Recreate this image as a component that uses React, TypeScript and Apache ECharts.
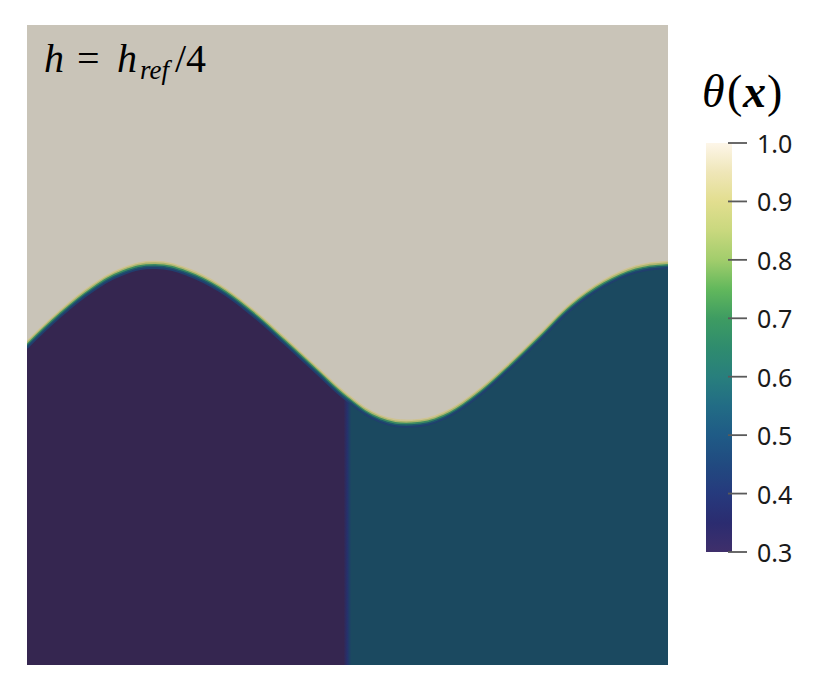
import React, { useEffect, useRef } from "react";
import * as echarts from "echarts";

// Interface position y(x) (domain [0,1] x [0,1])
const interfaceX = [0, 0.05, 0.1, 0.15, 0.2, 0.25, 0.3, 0.35, 0.4, 0.45, 0.5, 0.55, 0.6, 0.65, 0.7, 0.75, 0.8, 0.85, 0.9, 0.95, 1.0];
const interfaceY = [0.5, 0.547, 0.587, 0.615, 0.625, 0.614, 0.589, 0.552, 0.508, 0.462, 0.417, 0.385, 0.377, 0.389, 0.421, 0.464, 0.512, 0.561, 0.596, 0.618, 0.625];

// Lower regions: x extent and theta value
const regionStart = [0, 0.5];
const regionEnd = [0.5, 1];
const regionTheta = [0.3, 0.5];

// Colour bar: tick values (x10 to avoid float steps) and colormap stops
const barMin = 3;
const barMax = 10;
const barTicks = [3, 4, 5, 6, 7, 8, 9, 10];
const cmapValues = [0.3, 0.35, 0.4, 0.45, 0.5, 0.55, 0.6, 0.65, 0.7, 0.75, 0.8, 0.85, 0.9, 0.95, 1.0];
const cmapColors = ["#3f2f6b", "#2b2c70", "#263a7d", "#214a80", "#1f5b86", "#226c85", "#287f7d", "#2f8c6e", "#3e9c62", "#62b85c", "#a2cd6c", "#c9d87e", "#e2de8f", "#efe6b8", "#fdf6e9"];

const TOP_COLOR = "#c9c4b8";
const REGION_COLORS = ["#352650", "#1b4960"];
// interface blur band: [vertical pixel offset, width, colour]
const BAND: [number, number, string][] = [
  [-3.2, 2.2, "#cfc392"],
  [-1.6, 2.2, "#aab66c"],
  [0, 2.2, "#3d8b60"],
  [1.6, 2.2, "#1f5a6c"],
  [3.0, 1.8, "#213f6e"],
];

export default function App() {
  const ref = useRef<HTMLDivElement>(null);
  useEffect(() => {
    if (!ref.current) return;
    const chart = echarts.init(ref.current, null, { renderer: "svg" });
    const lineData = interfaceX.map((x, i) => [x, interfaceY[i]]);
    const regionData = regionStart.map((s, i) => [s, regionEnd[i], regionTheta[i]]);
    const stops = cmapValues.map((v, i) => ({
      offset: (1.0 - v) / 0.7,
      color: cmapColors[i],
    })).reverse();

    const serif = "Liberation Serif";
    const txt = (left: number, top: number, text: string, size: number, italic: boolean, bold = false) => ({
      type: "text",
      z: 100,
      left,
      top,
      style: {
        text,
        fontSize: size,
        fontStyle: italic ? "italic" : "normal",
        fontWeight: bold ? "bold" : "normal",
        fontFamily: serif,
        fill: "#000",
      },
    });

    chart.setOption({
      animation: false,
      grid: [
        { left: 27, top: 25, width: 641, height: 640 },
        { left: 706, top: 143, width: 26, height: 409 },
      ],
      xAxis: [
        { gridIndex: 0, type: "value", min: 0, max: 1, show: false },
        { gridIndex: 1, type: "value", min: 0, max: 1, show: false },
      ],
      yAxis: [
        { gridIndex: 0, type: "value", min: 0, max: 1, show: false },
        {
          gridIndex: 1,
          type: "value",
          min: barMin,
          max: barMax,
          interval: 1,
          position: "right",
          axisLine: { show: false },
          splitLine: { show: false },
          axisTick: { show: false },
          axisLabel: {
            margin: 25,
            fontSize: 25,
            color: "#1a1a1a",
            fontFamily: "Noto Sans",
            formatter: (v: number) => (v / 10).toFixed(1),
          },
        },
      ],
      graphic: [
        txt(44, 38, "h", 40, true),
        txt(77, 38, "=", 40, false),
        txt(117, 38, "h", 40, true),
        txt(140, 56, "ref", 27, true),
        txt(175, 38, "/4", 40, false),
        txt(702, 68, "θ", 46, true),
        txt(727, 68, "(", 46, false),
        txt(743, 68, "x", 46, true, true),
        txt(767, 68, ")", 46, false),
      ],
      series: [
        {
          type: "custom",
          xAxisIndex: 0,
          yAxisIndex: 0,
          data: regionData,
          renderItem: (params: any, api: any) => {
            const p0 = api.coord([api.value(0), 1]);
            const p1 = api.coord([api.value(1), 0]);
            return {
              type: "rect",
              shape: { x: p0[0], y: p0[1], width: p1[0] - p0[0], height: p1[1] - p0[1] },
              style: { fill: REGION_COLORS[params.dataIndex] },
            };
          },
          z: 1,
        },
        {
          type: "custom",
          xAxisIndex: 0,
          yAxisIndex: 0,
          data: [[regionEnd[0]]],
          renderItem: (params: any, api: any) => {
            const p0 = api.coord([api.value(0), 1]);
            const p1 = api.coord([api.value(0), 0]);
            return {
              type: "rect",
              shape: { x: p0[0] - 4, y: p0[1], width: 8, height: p1[1] - p0[1] },
              style: {
                fill: new echarts.graphic.LinearGradient(0, 0, 1, 0, [
                  { offset: 0, color: REGION_COLORS[0] },
                  { offset: 0.45, color: "#26306c" },
                  { offset: 0.7, color: "#1f3d68" },
                  { offset: 1, color: REGION_COLORS[1] },
                ]),
              },
            };
          },
          z: 2,
        },
        {
          type: "line",
          xAxisIndex: 0,
          yAxisIndex: 0,
          data: lineData,
          smooth: 0.4,
          symbol: "none",
          lineStyle: { width: 0 },
          areaStyle: { color: TOP_COLOR, opacity: 1, origin: "end" },
          z: 3,
        },
        {
          type: "custom",
          xAxisIndex: 0,
          yAxisIndex: 0,
          data: [[0]],
          clip: true,
          renderItem: (params: any, api: any) => {
            const pts = lineData.map((d) => api.coord(d));
            return {
              type: "group",
              children: BAND.map(([off, w, c]) => ({
                type: "polyline",
                shape: { points: pts.map((p: number[]) => [p[0], p[1] + off]), smooth: 0.4 },
                style: { stroke: c, lineWidth: w, fill: null },
              })),
            };
          },
          z: 4,
        },
        {
          type: "custom",
          xAxisIndex: 1,
          yAxisIndex: 1,
          data: [[barMin, barMax]],
          renderItem: (params: any, api: any) => {
            const pTop = api.coord([0, api.value(1)]);
            const pBot = api.coord([1, api.value(0)]);
            return {
              type: "rect",
              shape: { x: pTop[0], y: pTop[1], width: pBot[0] - pTop[0], height: pBot[1] - pTop[1] },
              style: { fill: new echarts.graphic.LinearGradient(0, 0, 0, 1, stops) },
            };
          },
          z: 1,
        },
        {
          type: "custom",
          xAxisIndex: 1,
          yAxisIndex: 1,
          data: barTicks.map((t) => [t]),
          clip: false,
          renderItem: (params: any, api: any) => {
            const p = api.coord([1, api.value(0)]);
            return {
              type: "line",
              shape: { x1: p[0] - 4, y1: p[1], x2: p[0] + 15, y2: p[1] },
              style: { stroke: "#5a5a5a", lineWidth: 1.8 },
            };
          },
          z: 5,
        },
      ],
    });
    return () => chart.dispose();
  }, []);
  return (
    <div
      ref={ref}
      style={{ position: "fixed", left: 0, top: 0, width: 831, height: 692, background: "#fff" }}
    />
  );
}
